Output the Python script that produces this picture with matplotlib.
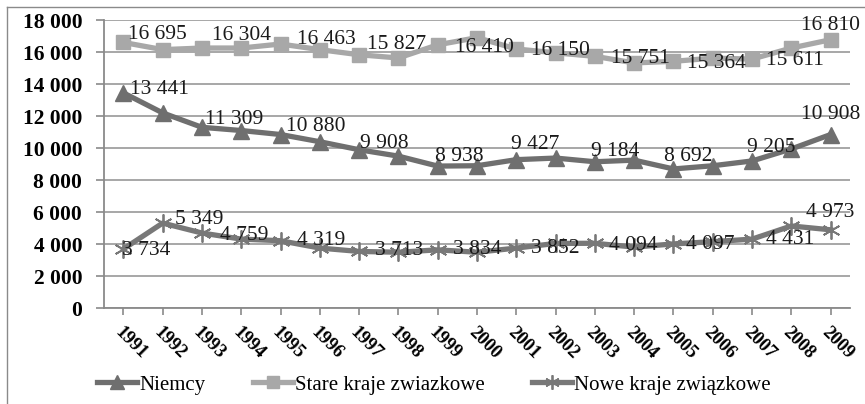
import matplotlib
matplotlib.use("Agg")
import matplotlib.pyplot as plt
from matplotlib.lines import Line2D
from matplotlib.markers import MarkerStyle

years = [str(y) for y in range(1991, 2010)]

niemcy = [13450, 12200, 11300, 11100, 10850, 10400, 9900, 9500, 8880, 8900,
          9280, 9380, 9150, 9250, 8700, 8900, 9200, 9950, 10850]
stare = [16600, 16150, 16250, 16250, 16500, 16150, 15830, 15630, 16450, 16900,
         16190, 15950, 15730, 15320, 15420, 15620, 15560, 16250, 16770]
nowe = [3700, 5320, 4700, 4320, 4220, 3760, 3550, 3500, 3650, 3500,
        3760, 4050, 4060, 3820, 4020, 4160, 4320, 5140, 4900]

niemcy_lbl_idx = [0, 2, 4, 6, 8, 10, 12, 14, 16, 18]
niemcy_lbl_txt = ["13 441", "11 309", "10 880", "9 908", "8 938", "9 427",
                  "9 184", "8 692", "9 205", "10 908"]
stare_lbl_idx = [0, 2, 4, 6, 8, 10, 12, 14, 16, 18]
stare_lbl_txt = ["16 695", "16 304", "16 463", "15 827", "16 410", "16 150",
                 "15 751", "15 364", "15 611", "16 810"]
nowe_lbl_idx = [0, 1, 2, 4, 6, 8, 10, 12, 14, 16, 18]
nowe_lbl_txt = ["3 734", "5 349", "4 759", "4 319", "3 713", "3 834", "3 852",
                "4 094", "4 097", "4 431", "4 973"]

legend_names = ["Niemcy", "Stare kraje zwiazkowe", "Nowe kraje związkowe"]
yticks = [0, 2000, 4000, 6000, 8000, 10000, 12000, 14000, 16000, 18000]

# label offsets in pixels (dx right, dy down) -- styling only
niemcy_off = [(7, -3), (3, -8), (5, -8), (1, -6), (-3, -10), (-5, -15),
              (-4, -10), (-9, -12), (-5, -13), (None, -20)]
stare_off = [(5, -8), (10, -13), (16, -5), (8, -10), (17, 3), (15, 2),
             (16, 2), (14, 2), (14, 1), (None, -14)]
nowe_off = [(-1, 1), (12, -4), (18, 2), (16, 0), (16, -1), (15, 0), (15, 0),
            (14, 2), (13, 1), (14, 0), (None, -17)]

DPI = 100
fig = plt.figure(figsize=(8.65, 4.04), dpi=DPI)
W, H = 865, 404
ax = fig.add_axes([103.7 / W, 1 - 308.3 / H, (850.3 - 103.7) / W, (308.3 - 20) / H])

serif = ["Liberation Serif", "DejaVu Serif"]
c_niem = "#6f6f6f"
c_stare = "#a8a8a8"
c_nowe = "#787878"
LBL = 15.5

x = list(range(len(years)))
star = MarkerStyle((6, 2, 0))
ax.plot(x, niemcy, color=c_niem, lw=3.8, marker="^", ms=12, zorder=3, label=legend_names[0])
ax.plot(x, stare, color=c_stare, lw=3.8, marker="s", ms=10.5, zorder=3, label=legend_names[1])
ax.plot(x, nowe, color=c_nowe, lw=3.8, marker=star, ms=13, mew=1.3, mec=c_nowe,
        zorder=3, label=legend_names[2])

def add_labels(vals, idxs, txts, offs):
    for i, t, (dx, dy) in zip(idxs, txts, offs):
        if dx is None:
            ax.annotate(t, (i, vals[i]), xytext=(0, -dy * 72 / DPI), textcoords="offset points",
                        ha="center", va="center", fontsize=LBL, family=serif, color="#1a1a1a",
                        zorder=5, annotation_clip=False)
        else:
            ax.annotate(t, (i, vals[i]), xytext=(dx * 72 / DPI, -dy * 72 / DPI),
                        textcoords="offset points", ha="left", va="center", fontsize=LBL,
                        family=serif, color="#1a1a1a", zorder=5, annotation_clip=False)

add_labels(stare, stare_lbl_idx, stare_lbl_txt, stare_off)
add_labels(niemcy, niemcy_lbl_idx, niemcy_lbl_txt, niemcy_off)
add_labels(nowe, nowe_lbl_idx, nowe_lbl_txt, nowe_off)

ax.set_xlim(-0.5, len(years) - 0.5)
ax.set_ylim(0, 18000)
ax.set_yticks(yticks)
ax.set_yticklabels([f"{v:,}".replace(",", " ") for v in yticks],
                   fontsize=15.5, fontweight="bold", family=serif)
ax.set_xticks(x)
ax.set_xticklabels(years, rotation=-45, ha="left", va="top", rotation_mode="anchor",
                   fontsize=13.5, fontweight="bold", family=serif)
ax.tick_params(axis="x", length=5, color="#8a8a8a", width=1.2, pad=6)
ax.tick_params(axis="y", length=6, color="#8a8a8a", width=1.2, pad=9.5)
ax.grid(axis="y", color="#a0a0a0", lw=1.3)
ax.set_axisbelow(True)
for s in ["top", "right"]:
    ax.spines[s].set_visible(False)
for s in ["left", "bottom"]:
    ax.spines[s].set_color("#8a8a8a")
    ax.spines[s].set_linewidth(1.3)

# outer chart frame (left and top edges visible)
fig.add_artist(Line2D([7 / W, 7 / W], [0, 1 - 7 / H], color="#8a8a8a", lw=1.0))
fig.add_artist(Line2D([7 / W, 1], [1 - 7 / H, 1 - 7 / H], color="#8a8a8a", lw=1.0))

fig.legend(loc="center", bbox_to_anchor=(434 / W, 1 - 385 / H), ncol=3, frameon=False,
           prop={"family": serif, "size": 15}, handlelength=1.9, handletextpad=0.1,
           columnspacing=2.3, markerscale=0.8)

fig.savefig("out.png", dpi=DPI)
